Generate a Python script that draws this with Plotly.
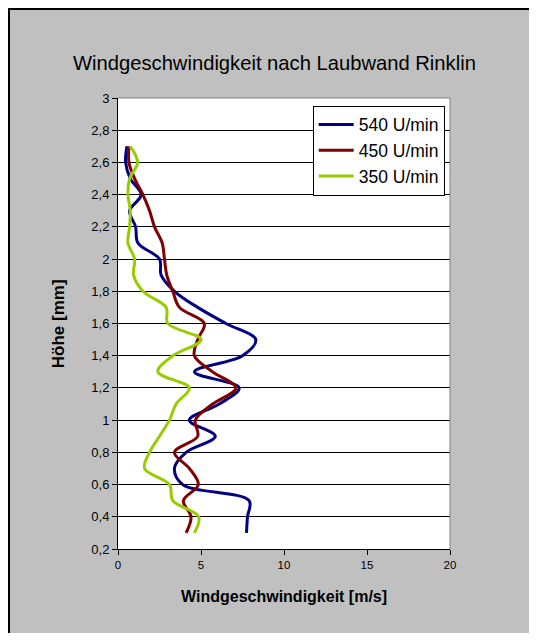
import plotly.graph_objects as go

hoehe = [0.3, 0.4, 0.5, 0.6, 0.7, 0.8, 0.9, 1.0, 1.1, 1.2, 1.3, 1.4, 1.5,
         1.6, 1.7, 1.8, 1.9, 2.0, 2.1, 2.2, 2.3, 2.4, 2.5, 2.6, 2.7]
v540 = [7.74, 7.8, 7.9, 3.9, 3.4, 4.1, 5.86, 4.3, 6.1, 7.3, 4.6, 7.5, 8.3,
        6.5, 4.8, 3.4, 2.6, 2.5, 1.2, 1.06, 0.7, 1.4, 0.74, 0.46, 0.54]
v450 = [4.1, 4.4, 3.94, 4.84, 4.3, 3.4, 4.8, 4.66, 5.7, 7.1, 5.7, 4.6, 4.8,
        5.2, 3.7, 3.3, 2.94, 2.8, 2.66, 2.2, 1.9, 1.5, 1.0, 0.66, 0.66]
v350 = [4.6, 4.86, 3.3, 3.1, 1.6, 1.9, 2.5, 3.1, 3.5, 4.3, 2.4, 3.3, 5.0,
        3.0, 2.9, 1.5, 0.94, 1.0, 0.6, 0.7, 0.74, 0.6, 0.7, 1.18, 0.74]

series_names = ["540 U/min", "450 U/min", "350 U/min"]
series_colors = ["#000080", "#800000", "#99CC00"]

y_tickvals = [0.2, 0.4, 0.6, 0.8, 1.0, 1.2, 1.4, 1.6, 1.8, 2.0, 2.2, 2.4, 2.6, 2.8, 3.0]
y_ticktext = ["0,2", "0,4", "0,6", "0,8", "1", "1,2", "1,4", "1,6", "1,8", "2",
              "2,2", "2,4", "2,6", "2,8", "3"]
x_tickvals = [0, 5, 10, 15, 20]

title_text = "Windgeschwindigkeit nach Laubwand Rinklin"
x_title = "Windgeschwindigkeit [m/s]"
y_title = "Höhe [mm]"

FONT = "Liberation Sans, Arial, sans-serif"

# page has an 8px body margin; keep figure inside the 537x641 window
W, H = 521, 625
L, T = 110, 90
PW, PH = 332, 451
R = W - L - PW
B = H - T - PH

fig = go.Figure()
for name, vals, col in zip(series_names, [v540, v450, v350], series_colors):
    fig.add_trace(go.Scatter(
        x=vals, y=hoehe, mode="lines", name=name,
        line=dict(color=col, width=3, shape="spline", smoothing=1.0),
        legendgroup=name,
    ))

def px_x(px):  # figure pixel -> paper x
    return (px - L) / PW

def px_y(py):  # figure pixel (from top) -> paper y
    return 1 - (py - T) / PH

shapes = [
    # plot area border (top and right, grey)
    dict(type="line", xref="paper", yref="paper", x0=0, x1=1, y0=1, y1=1,
         line=dict(color="#808080", width=1)),
    dict(type="line", xref="paper", yref="paper", x0=1, x1=1, y0=0, y1=1,
         line=dict(color="#808080", width=1)),
    # outer chart frame (left and top, black)
    dict(type="line", xref="paper", yref="paper", x0=px_x(1), x1=px_x(1),
         y0=px_y(H + 5), y1=px_y(0), line=dict(color="black", width=2)),
    dict(type="line", xref="paper", yref="paper", x0=px_x(0), x1=px_x(W + 5),
         y0=px_y(1), y1=px_y(1), line=dict(color="black", width=2)),
]

annotations = [
    dict(text=title_text, xref="paper", yref="paper", x=px_x(266.7), y=px_y(55),
         xanchor="center", yanchor="middle", showarrow=False,
         font=dict(family=FONT, size=20.2, color="black")),
    dict(text="<b>" + x_title + "</b>", xref="paper", yref="paper", x=0.5,
         y=px_y(588), xanchor="center", yanchor="middle", showarrow=False,
         font=dict(family=FONT, size=16, color="black")),
    dict(text="<b>" + y_title + "</b>", xref="paper", yref="paper", x=px_x(50.7),
         y=0.5, xanchor="center", yanchor="middle", textangle=-90, showarrow=False,
         font=dict(family=FONT, size=17, color="black")),
]

fig.update_layout(
    width=W, height=H,
    margin=dict(l=L, r=R, t=T, b=B, pad=0),
    paper_bgcolor="#C0C0C0",
    plot_bgcolor="white",
    font=dict(family=FONT, color="black"),
    showlegend=True,
    legend=dict(
        x=px_x(304.7), y=px_y(97.5), xanchor="left", yanchor="top",
        bgcolor="white", bordercolor="black", borderwidth=1,
        font=dict(family=FONT, size=17.5, color="black"),
        tracegroupgap=0, itemwidth=35,
    ),
    shapes=shapes,
    annotations=annotations,
)
fig.update_xaxes(
    range=[0, 20], tickvals=x_tickvals, ticks="outside", ticklen=5,
    tickcolor="black", showline=True, linecolor="black", linewidth=1,
    showgrid=False, zeroline=False,
    tickfont=dict(family=FONT, size=11.5, color="black"),
)
fig.update_yaxes(
    range=[0.2, 3.0], tickvals=y_tickvals, ticktext=y_ticktext, ticks="outside",
    ticklen=5, tickcolor="black", showline=True, linecolor="black", linewidth=1,
    showgrid=True, gridcolor="black", gridwidth=1, zeroline=False,
    tickfont=dict(family=FONT, size=13, color="black"),
)

fig.write_html("out.html")
